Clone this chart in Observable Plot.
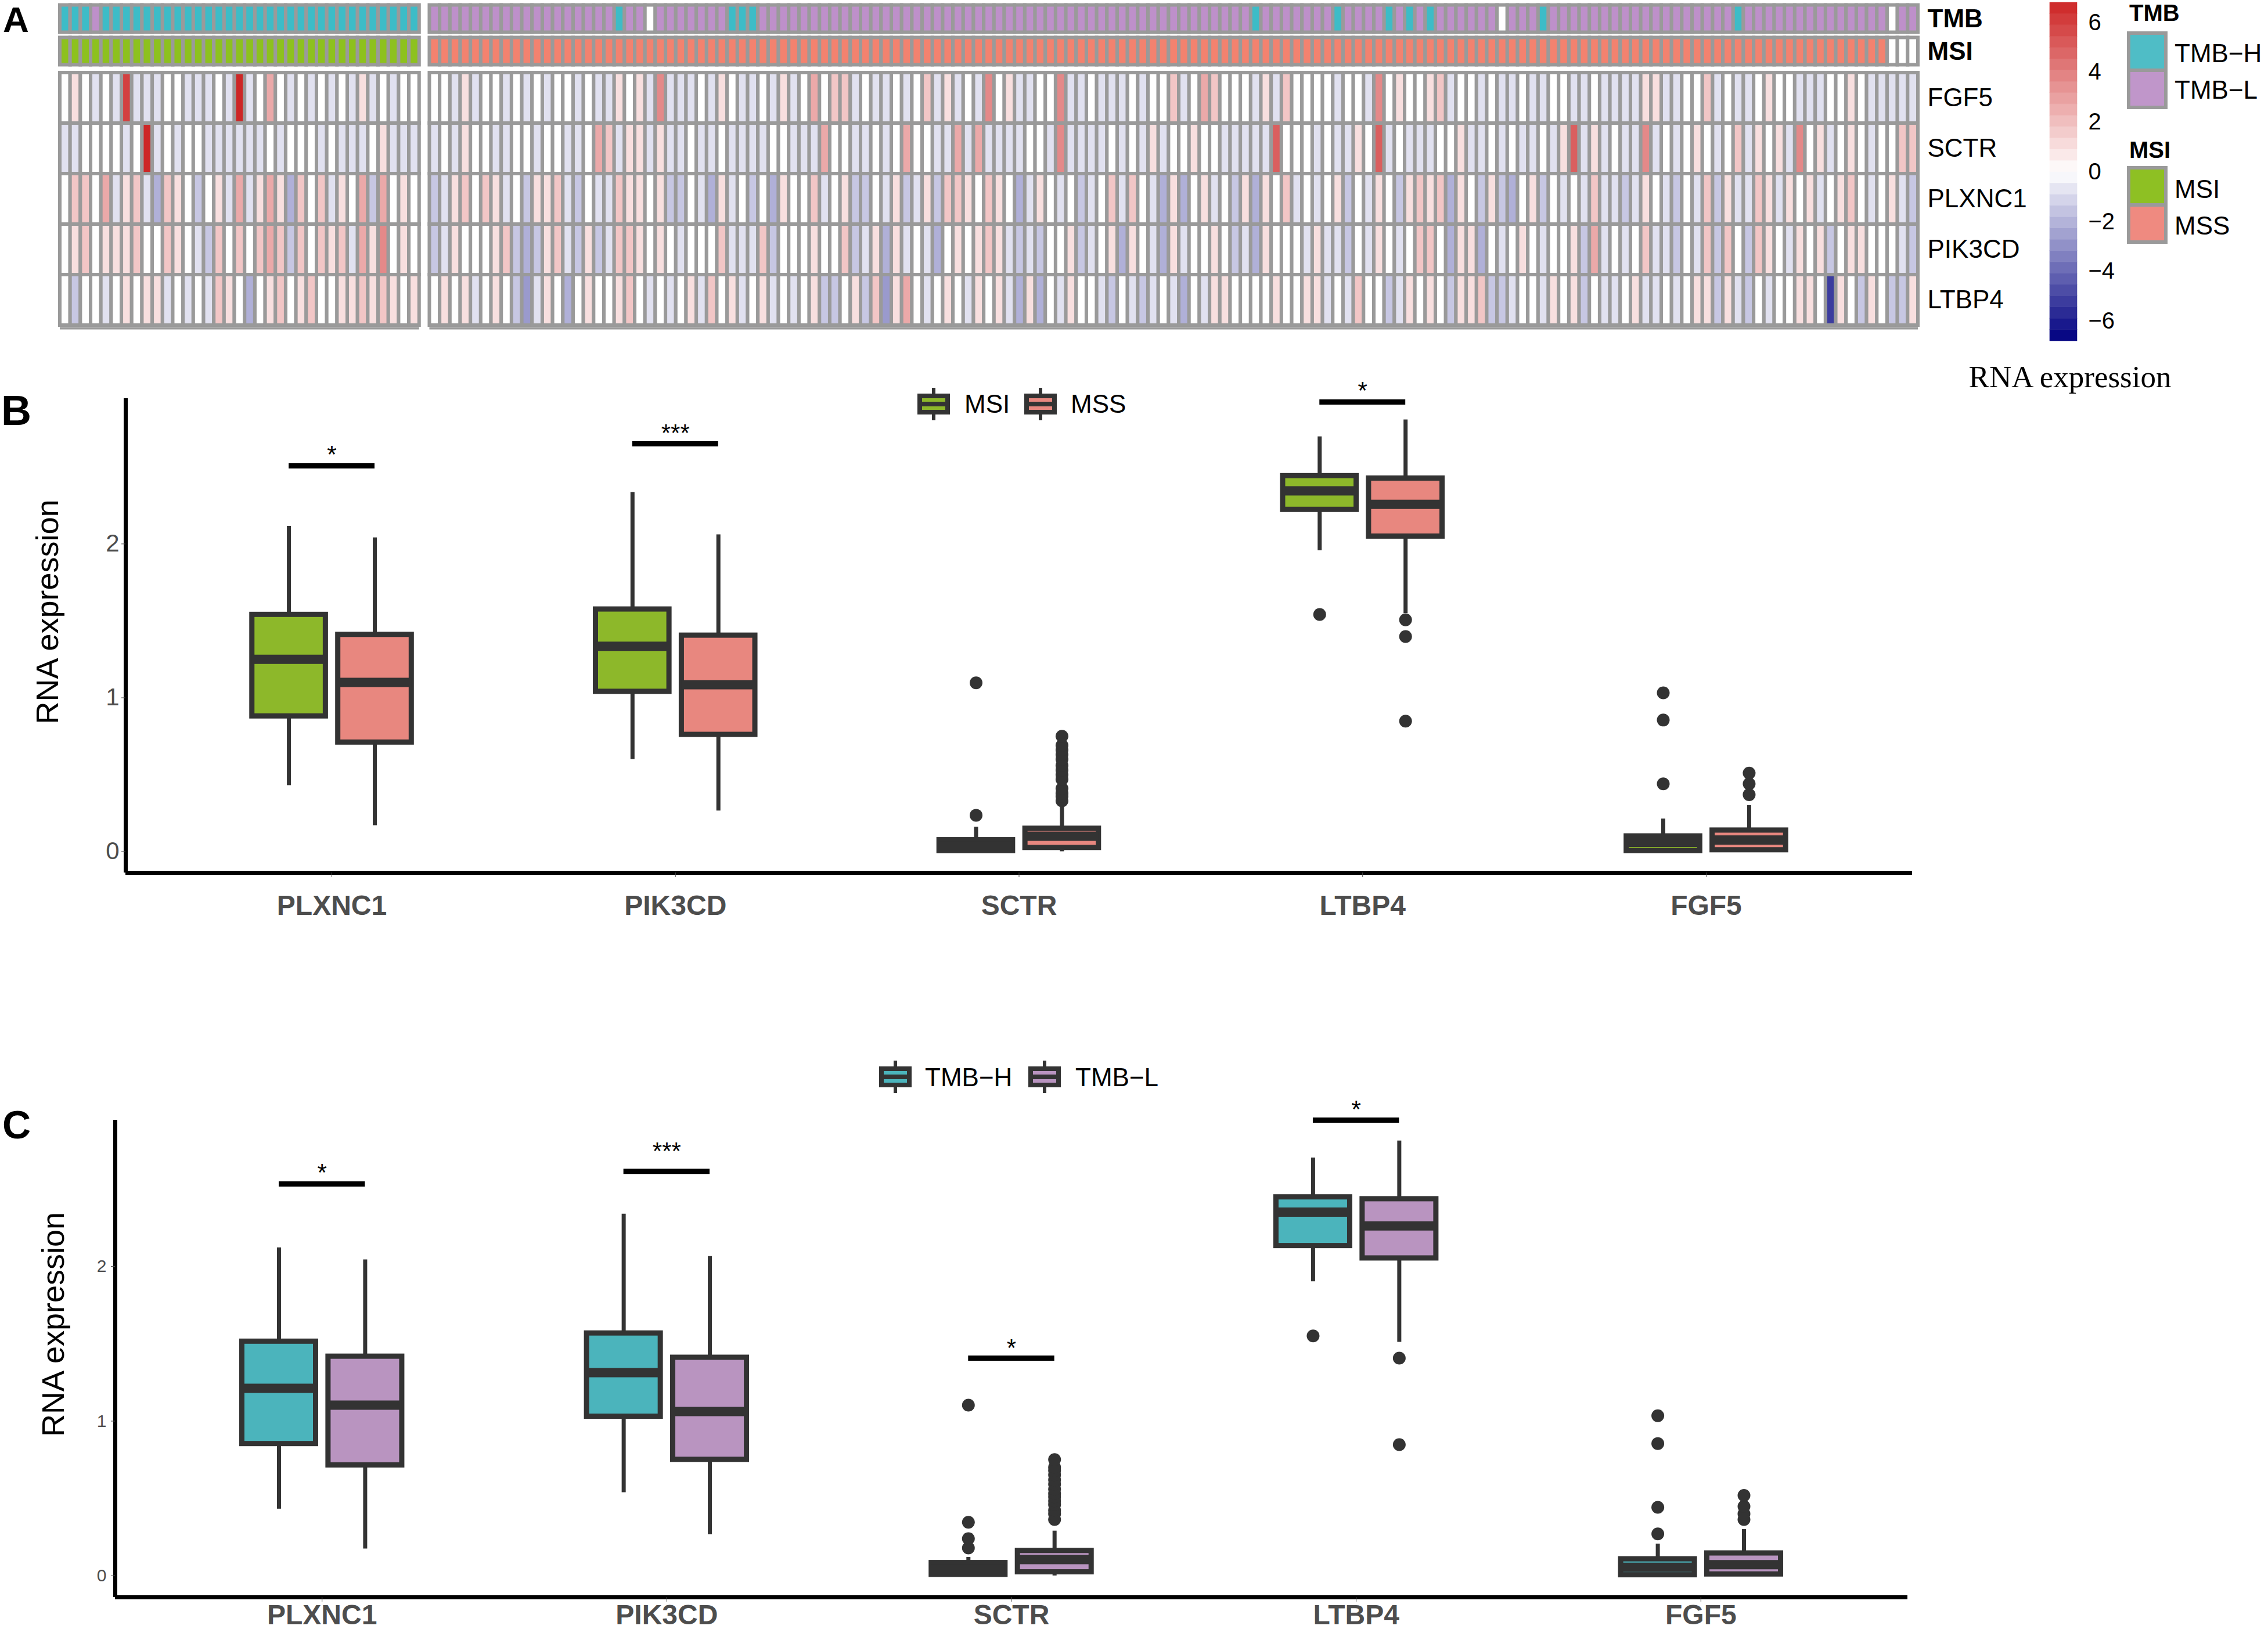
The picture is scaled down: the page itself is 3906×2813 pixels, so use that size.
<!DOCTYPE html>
<html><head><meta charset="utf-8">
<script src="https://cdn.jsdelivr.net/npm/d3@7"></script>
<script src="https://cdn.jsdelivr.net/npm/@observablehq/plot@0.6"></script>
<style>
html,body{margin:0;padding:0;background:#fff;}
#page{position:relative;width:3906px;height:2813px;overflow:hidden;background:#fff;font-family:"Liberation Sans",Arial,sans-serif;}
</style></head><body>
<div id="page"></div>
<script>
// ---------------- DATA ----------------
const genes = ["PLXNC1", "PIK3CD", "SCTR", "LTBP4", "FGF5"];          // boxplot order
const heatGenes = ["FGF5", "SCTR", "PLXNC1", "PIK3CD", "LTBP4"];      // heatmap rows
const annotRows = ["TMB", "MSI"];
const nLeft = 35, nRight = 145;                                       // MSI group / MSS group samples

// heatmap level codes (z-scored RNA expression)
const levelCode = {".": 0, "1": 1.0, "2": 1.8, "3": 2.7, "4": 3.7, "5": 5, "7": 6, "8": 6.8,
                   "a": -0.8, "b": -1.5, "c": -2.1, "d": -2.7, "g": -5.2};

const heatFGF5 = [".1.a.a7aaa..aaa.a8a.3.a.a.a.a1a.a..",
  "..a1a..a.a.a..a.aa1.1a4aaa.a1.aa.a1a.3",
  ".22a.aa.a.2a1a.a4.1aa..4aa.aaa.a..2a.32",
  "...a1a2....a..a4.1..12a..a.aa.aa..aa.a",
  "aaa11aa..2a.aa.1..aaa..1.aaaaa"].join("");
const heatSCTR = ["aa....a.8a.a..aaaaaa.a...a.aaa.1aaa",
  "a.a1..aa..a..aa.32a11a1aa.aa.aaaa..aaa",
  "3..aa.a.3..aa3a3aaaa..a4aaaa.a.a1a..1..",
  "aaaaa5...a.aa1.5a.aaa..1aa.a.aa.a15a1a",
  ".aa4a.a.1.a.2a1.1a4.1a.1.a..22"].join("");
const heatPLXNC1 = [".22.3a12ac21.b.1a3a131c2.2a1.3b3.1.",
  "ba12.21a.b112ab.aa211.1bb.ac1a.b.c1..2",
  "a.1bb.a1ba1b221.21.ca1.a.ba.2a2.ac1c.1a",
  ".b1c1.2a.a.1b.a1.b1212c1.b1bc.1b.a.a2a",
  "aba1.ab.a2b1aa21a1.1a.12.a.1ab"].join("");
const heatPIK3CD = [".12.1112..21.ab2.2.232b2.212a314.1.",
  "ba1...12bcb12ab1ba221.1.a...2aaa2b...1",
  "..2ba1c1a.ac.1.121abab..1ba.1c1.ac1a..1",
  ".bac1...a1aab.a1.a.22.c11c.a.1.a..1b3a",
  ".a.2aab.a2b2.b21.a1.1b.11...ab"].join("");
const heatLTBP4 = [".b..a.1.11a.a.a21.c.12.12..112121.1",
  ".1.1a.1.bda1.c.1..12.a.a.1a2.1a.1a.a.1",
  "bb.1b2d13.a.1.a1.1ac1c.a1..ab.aba.ac.a1",
  "1....1..11a.a2..ba1.1.b112bba..a1.1b.a",
  "a.1aa.a.11b1ab.a..11.g1.b1.bb1"].join("");

// annotation rows: H = TMB-H, L = TMB-L, I = MSI, S = MSS, - = NA
const tmbStatus = ["HHHLHHHHHH", "HHHHHHHHHH", "HHHHHHHHHH", "HHHHH",
  "LLLLLLLLLLLLLLLLLL", "H", "LL", "-", "LLLLLLL", "HHH",
  "LLLLLLLLLL", "LLLLLLLLLL", "LLLLLLLLLL", "LLLLLLLLLL", "LLLLLLLL",
  "H", "LLLLLLL", "H", "LLLL", "H", "L", "H", "L", "H", "LLLLLL", "-", "LLL", "H",
  "LLLLLLLLLLLLLLLLLL", "H", "LLLLLLLLLLLLLL", "-", "LL"].join("");
const msiStatus = ["IIIIIIIIII", "IIIIIIIIII", "IIIIIIIIII", "IIIII",
  "SSSSSSSSSS", "SSSSSSSSSS", "SSSSSSSSSS", "SSSSSSSSSS", "SSSSSSSSSS", "SSSSSSSSSS", "SSSSSSSSSS",
  "SSSSSSSSSS", "SSSSSSSSSS", "SSSSSSSSSS", "SSSSSSSSSS", "SSSSSSSSSS", "SSSSSSSSSS", "SSSSSSSSSS",
  "SS", "---"].join("");
const annotCode = {H: "TMB-H", L: "TMB-L", I: "MSI", S: "MSS", "-": "NA"};
const annotCats = ["TMB-H", "TMB-L", "MSI", "MSS", "NA"];
const annotColors = ["#3DBCC7", "#BE90CA", "#8DC11E", "#F3826F", "#FFFFFF"];
const heatTicks = [-6, -4, -2, 0, 2, 4, 6];
const heatLimits = [-6.8, 6.8];

// boxplot summaries: gene, group, lower whisker, Q1, median, Q3, upper whisker
const boxCols = ["gene", "group", "lo", "q1", "med", "q3", "hi"];
const msiGroups = ["MSI", "MSS"];
const msiColors = ["#8DB82A", "#E8877F"];
const msiBoxes = [
  ["PLXNC1", "MSI", 0.43, 0.88, 1.25, 1.54, 2.115],
  ["PLXNC1", "MSS", 0.17, 0.71, 1.10, 1.41, 2.04],
  ["PIK3CD", "MSI", 0.60, 1.04, 1.335, 1.575, 2.335],
  ["PIK3CD", "MSS", 0.265, 0.76, 1.085, 1.405, 2.06],
  ["SCTR", "MSI", 0.0, 0.005, 0.035, 0.075, 0.16],
  ["SCTR", "MSS", 0.0, 0.025, 0.10, 0.15, 0.30],
  ["LTBP4", "MSI", 1.957, 2.223, 2.345, 2.442, 2.697],
  ["LTBP4", "MSS", 1.548, 2.049, 2.257, 2.426, 2.807],
  ["FGF5", "MSI", 0.0, 0.005, 0.06, 0.10, 0.213],
  ["FGF5", "MSS", 0.0, 0.01, 0.075, 0.138, 0.30]
];
const msiOutliers = [
  ["SCTR", "MSI", [0.236, 1.097]],
  ["SCTR", "MSS", [0.33, 0.36, 0.38, 0.41, 0.47, 0.50, 0.53, 0.56, 0.60, 0.63, 0.66, 0.69, 0.75]],
  ["LTBP4", "MSI", [1.541]],
  ["LTBP4", "MSS", [1.506, 1.398, 0.848]],
  ["FGF5", "MSI", [0.44, 0.855, 1.032]],
  ["FGF5", "MSS", [0.37, 0.44, 0.51]]
];
const msiSignif = [["PLXNC1", 2.507, 2.615, "*"], ["PIK3CD", 2.651, 2.756, "***"], ["LTBP4", 2.922, 3.03, "*"]];

const tmbGroups = ["TMB-H", "TMB-L"];
const tmbColors = ["#4BB4BC", "#B994C0"];
const tmbBoxes = [
  ["PLXNC1", "TMB-H", 0.432, 0.853, 1.212, 1.515, 2.121],
  ["PLXNC1", "TMB-L", 0.174, 0.715, 1.103, 1.418, 2.043],
  ["PIK3CD", "TMB-H", 0.538, 1.030, 1.313, 1.568, 2.339],
  ["PIK3CD", "TMB-L", 0.266, 0.751, 1.062, 1.411, 2.065],
  ["SCTR", "TMB-H", 0.0, 0.007, 0.04, 0.084, 0.12],
  ["SCTR", "TMB-L", 0.0, 0.024, 0.105, 0.162, 0.29],
  ["LTBP4", "TMB-H", 1.902, 2.133, 2.351, 2.448, 2.702],
  ["LTBP4", "TMB-L", 1.51, 2.053, 2.262, 2.436, 2.812],
  ["FGF5", "TMB-H", 0.0, 0.005, 0.055, 0.108, 0.206],
  ["FGF5", "TMB-L", 0.0, 0.01, 0.072, 0.146, 0.30]
];
const tmbOutliers = [
  ["SCTR", "TMB-H", [0.18, 0.24, 0.346, 1.103]],
  ["SCTR", "TMB-L", [0.364, 0.40, 0.424, 0.46, 0.484, 0.51, 0.532, 0.56, 0.593, 0.62, 0.653, 0.68, 0.702, 0.751]],
  ["LTBP4", "TMB-H", [1.551]],
  ["LTBP4", "TMB-L", [1.407, 0.848]],
  ["FGF5", "TMB-H", [0.271, 0.443, 0.855, 1.035]],
  ["FGF5", "TMB-L", [0.364, 0.40, 0.448, 0.52]]
];
const tmbSignif = [["PLXNC1", 2.533, 2.64, "*"], ["PIK3CD", 2.615, 2.78, "***"], ["SCTR", 1.407, 1.51, "*"], ["LTBP4", 2.946, 3.05, "*"]];
const boxTicks = [0, 1, 2];

// ---------------- CHECKS ----------------
const heatStr = {FGF5: heatFGF5, SCTR: heatSCTR, PLXNC1: heatPLXNC1, PIK3CD: heatPIK3CD, LTBP4: heatLTBP4};
const N = nLeft + nRight;
for (const g of heatGenes) {
  if (heatStr[g].length !== N) throw new Error(g + " length " + heatStr[g].length);
  for (const ch of heatStr[g]) if (!(ch in levelCode)) throw new Error("bad code " + ch + " in " + g);
}
if (tmbStatus.length !== N) throw new Error("tmb length " + tmbStatus.length);
if (msiStatus.length !== N) throw new Error("msi length " + msiStatus.length);

// ---------------- BUILD ----------------
const page = document.getElementById("page");
function place(el, left, top) {
  el.style.position = "absolute"; el.style.left = left + "px"; el.style.top = top + "px";
  page.appendChild(el);
}
const FONT = "Liberation Sans, Arial, sans-serif";
const sampleIds = Array.from({length: N}, (_, i) => "S" + (i + 1));
const xDomain = [...sampleIds.slice(0, nLeft), "gap", ...sampleIds.slice(nLeft)];
const heatInterp = d3.piecewise(d3.interpolateRgb, ["#000080", "#ffffff", "#cd2626"]);
const heatColor = {type: "linear", domain: heatLimits, interpolate: heatInterp};
const GRID = "#9a9a9a";

// annotation strip
const annotCells = [];
sampleIds.forEach((s, i) => {
  annotCells.push({sample: s, row: "TMB", cat: annotCode[tmbStatus[i]]});
  annotCells.push({sample: s, row: "MSI", cat: annotCode[msiStatus[i]]});
});
const annot = Plot.plot({
  width: 3906, height: 118, marginLeft: 103, marginRight: 603, marginTop: 4, marginBottom: 2,
  x: {domain: xDomain, padding: 0, axis: null},
  y: {domain: annotRows, padding: 0, axis: null},
  color: {domain: annotCats, range: annotColors},
  style: {background: "transparent", fontFamily: FONT, overflow: "visible"},
  marks: [
    Plot.cell(annotCells, {x: "sample", y: "row", fill: "cat", stroke: GRID, strokeWidth: 6, insetTop: 4.5, insetBottom: 4.5}),
    Plot.text(annotRows, {y: d => d, text: d => d, frameAnchor: "right", dx: 16, textAnchor: "start",
      fontSize: 44, fontWeight: "bold", fill: "black"})
  ]
});
place(annot, 0, 0);

// heatmap
const heatCells = [];
for (const g of heatGenes) sampleIds.forEach((s, i) => heatCells.push({sample: s, gene: g, value: levelCode[heatStr[g][i]]}));
const groupSpans = [{x1: sampleIds[0], x2: sampleIds[nLeft - 1]}, {x1: sampleIds[nLeft], x2: sampleIds[N - 1]}];
const heat = Plot.plot({
  width: 3906, height: 470, marginLeft: 103, marginRight: 603, marginTop: 14.5, marginBottom: 19,
  x: {domain: xDomain, padding: 0, axis: null},
  y: {domain: heatGenes, padding: 0, axis: null},
  color: heatColor,
  style: {background: "transparent", fontFamily: FONT, overflow: "visible"},
  marks: [
    Plot.cell(heatCells, {x: "sample", y: "gene", fill: "value", stroke: GRID, strokeWidth: 6}),
    Plot.ruleY(groupSpans, {y: () => heatGenes[heatGenes.length - 1], x1: "x1", x2: "x2", dy: 48.6, stroke: GRID, strokeWidth: 4}),
    Plot.text(heatGenes, {y: d => d, text: d => d, frameAnchor: "right", dx: 16, textAnchor: "start", fontSize: 44, fill: "black"})
  ]
});
place(heat, 0, 110);

// colour bar
const nSteps = 30;
const edges = d3.range(nSteps + 1).map(i => heatLimits[0] + (heatLimits[1] - heatLimits[0]) * i / nSteps);
const bands = d3.range(nSteps).map(i => ({y1: edges[i], y2: edges[i + 1], v: (edges[i] + edges[i + 1]) / 2}));
const cbar = Plot.plot({
  width: 200, height: 600, marginLeft: 50, marginRight: 103, marginTop: 4, marginBottom: 13,
  y: {domain: heatLimits},
  color: heatColor,
  style: {background: "transparent", fontFamily: FONT, overflow: "visible"},
  marks: [
    Plot.rect(bands, {y1: "y1", y2: "y2", fill: "v", stroke: "v", strokeWidth: 0.6}),
    Plot.axisY({anchor: "right", ticks: heatTicks, tickSize: 0, tickPadding: 19, fontSize: 40, fill: "black", label: null})
  ]
});
place(cbar, 3480, 0);

// boxplot panels
function boxPanel(cfg) {
  const {rows, outRows, sigRows, groups, colors, yDomain, height, marginTop, marginBottom, marginLeft, marginRight,
         yTickFont, yTickPad, xTickPad, titleDx, titleDy} = cfg;
  const dodge = 0.125, hw = 0.107;
  const boxes = rows.map(r => Object.fromEntries(boxCols.map((c, i) => [c, r[i]])));
  const outs = outRows.flatMap(([gene, group, vals]) => vals.map(v => ({gene, group, v})));
  const sig = sigRows.map(([gene, y, sy, label]) => ({gene, y, sy, label}));
  const gpos = d => genes.indexOf(d.gene) + 1;
  const pos = d => gpos(d) + (groups.indexOf(d.group) === 0 ? -dodge : dodge);
  const xDom = [0.4, genes.length + 0.6];
  return Plot.plot({
    width: 3906, height, marginTop, marginBottom, marginLeft, marginRight,
    x: {domain: xDom},
    y: {domain: yDomain},
    color: {domain: groups, range: colors},
    style: {background: "transparent", fontFamily: FONT, overflow: "visible"},
    marks: [
      Plot.ruleX(boxes, {x: pos, y1: "q3", y2: "hi", stroke: "#333", strokeWidth: 7}),
      Plot.ruleX(boxes, {x: pos, y1: "lo", y2: "q1", stroke: "#333", strokeWidth: 7}),
      Plot.rect(boxes, {x1: d => pos(d) - hw, x2: d => pos(d) + hw, y1: "q1", y2: "q3", fill: "group", stroke: "#333", strokeWidth: 9}),
      Plot.ruleY(boxes, {y: "med", x1: d => pos(d) - hw, x2: d => pos(d) + hw, stroke: "#333", strokeWidth: 16}),
      Plot.dot(outs, {x: pos, y: "v", r: 11, fill: "#333"}),
      Plot.ruleY(sig, {y: "y", x1: d => gpos(d) - dodge, x2: d => gpos(d) + dodge, stroke: "black", strokeWidth: 9}),
      Plot.text(sig, {x: gpos, y: "sy", text: "label", fontSize: 42, dy: 10, fill: "black"}),
      Plot.ruleX([xDom[0]], {stroke: "black", strokeWidth: 7}),
      Plot.ruleY([yDomain[0]], {stroke: "black", strokeWidth: 7}),
      Plot.axisY({ticks: boxTicks, tickFormat: d => String(d), tickSize: 7, tickPadding: yTickPad, fontSize: yTickFont,
        color: "#4d4d4d", label: null}),
      Plot.axisX({ticks: genes.map((g, i) => i + 1), tickFormat: i => genes[i - 1], tickSize: 8, tickPadding: xTickPad,
        fontSize: 48, fontWeight: "bold", color: "#4d4d4d", label: null}),
      Plot.text(["RNA expression"], {frameAnchor: "left", textAnchor: "middle", rotate: -90, dx: titleDx, dy: titleDy,
        fontSize: 54, fill: "black"})
    ]
  });
}
const panelB = boxPanel({rows: msiBoxes, outRows: msiOutliers, sigRows: msiSignif, groups: msiGroups, colors: msiColors,
  yDomain: [-0.138, 2.945], height: 1000, marginTop: 86, marginBottom: 97, marginLeft: 216, marginRight: 613,
  yTickFont: 42, yTickPad: 4, xTickPad: 30, titleDx: -134, titleDy: -41});
place(panelB, 0, 600);
const panelC = boxPanel({rows: tmbBoxes, outRows: tmbOutliers, sigRows: tmbSignif, groups: tmbGroups, colors: tmbColors,
  yDomain: [-0.139, 2.946], height: 973, marginTop: 89, marginBottom: 62, marginLeft: 198, marginRight: 621,
  yTickFont: 30, yTickPad: 8, xTickPad: 4, titleDx: -106, titleDy: -59});
place(panelC, 0, 1840);

// ---------------- overlay: panel letters and legends ----------------
const NS = "http://www.w3.org/2000/svg";
const ov = document.createElementNS(NS, "svg");
ov.setAttribute("width", 3906); ov.setAttribute("height", 2813);
ov.setAttribute("font-family", FONT);
ov.style.position = "absolute"; ov.style.left = "0px"; ov.style.top = "0px"; ov.style.zIndex = 5;
function add(tag, attrs, text) {
  const e = document.createElementNS(NS, tag);
  for (const k in attrs) e.setAttribute(k, attrs[k]);
  if (text != null) e.textContent = text;
  ov.appendChild(e); return e;
}
add("text", {x: 5, y: 55, "font-size": 62, "font-weight": "bold"}, "A");
add("text", {x: 2, y: 732, "font-size": 72, "font-weight": "bold"}, "B");
add("text", {x: 4, y: 1961, "font-size": 68, "font-weight": "bold"}, "C");

// heatmap annotation legend
const legA = [
  {title: "TMB", ty: 36, items: [["TMB−H", "#4FBDC6", 57, 107], ["TMB−L", "#C096CA", 121, 170]]},
  {title: "MSI", ty: 272, items: [["MSI", "#8EC023", 289, 341], ["MSS", "#EF8A80", 353, 404]]}
];
for (const blk of legA) {
  add("text", {x: 3667, y: blk.ty, "font-size": 40, "font-weight": "bold"}, blk.title);
  for (const [lab, col, ry, ly] of blk.items) {
    add("rect", {x: 3666, y: ry, width: 64, height: 64, fill: col, stroke: GRID, "stroke-width": 6});
    add("text", {x: 3745, y: ly, "font-size": 44}, lab);
  }
}
add("text", {x: 3565, y: 667, "font-size": 53, "text-anchor": "middle",
  "font-family": "Liberation Serif, Times New Roman, serif"}, "RNA expression");

// boxplot legends (key glyphs)
function boxKey(x, cy, fill) {
  add("line", {x1: x + 24, x2: x + 24, y1: cy - 28, y2: cy + 28, stroke: "#333", "stroke-width": 6});
  add("rect", {x: x, y: cy - 14, width: 48, height: 28, fill: fill, stroke: "#333", "stroke-width": 8});
  add("line", {x1: x, x2: x + 48, y1: cy, y2: cy, stroke: "#333", "stroke-width": 8});
}
boxKey(1584, 696, msiColors[0]); add("text", {x: 1661, y: 711, "font-size": 44}, "MSI");
boxKey(1768, 696, msiColors[1]); add("text", {x: 1844, y: 711, "font-size": 44}, "MSS");
boxKey(1518, 1855, tmbColors[0]); add("text", {x: 1593, y: 1871, "font-size": 44}, "TMB−H");
boxKey(1775, 1855, tmbColors[1]); add("text", {x: 1852, y: 1871, "font-size": 44}, "TMB−L");
page.appendChild(ov);
</script>
</body></html>
